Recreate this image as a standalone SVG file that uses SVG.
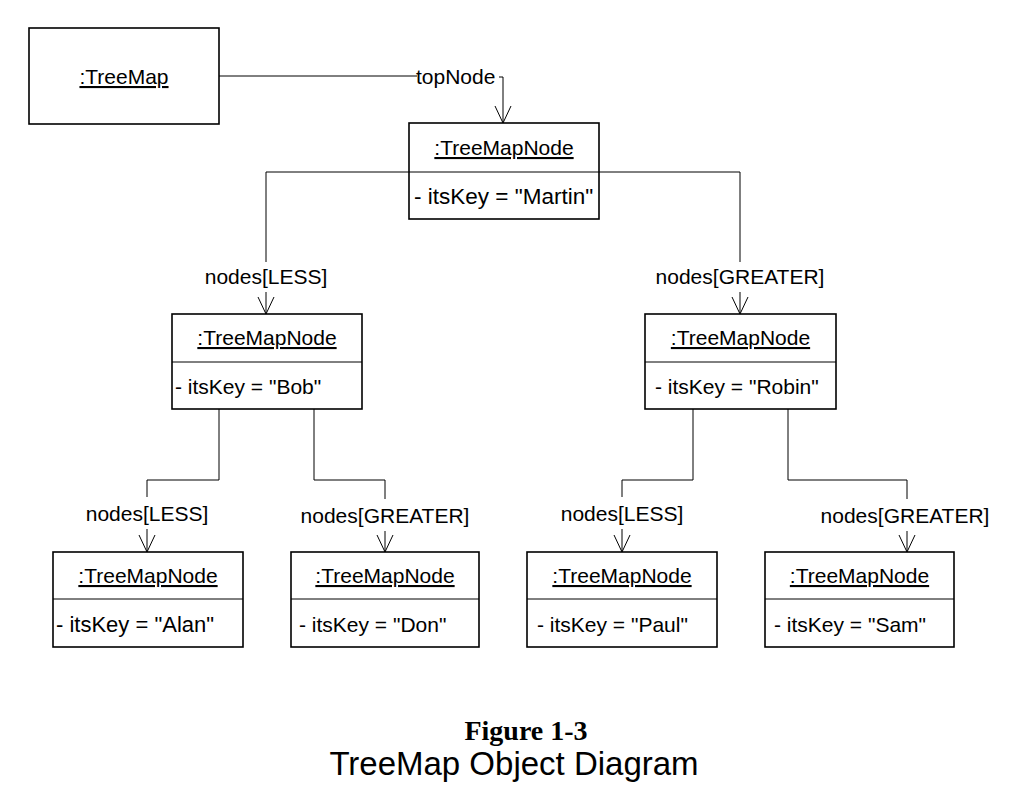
<svg xmlns="http://www.w3.org/2000/svg" width="1022" height="800" viewBox="0 0 1022 800">
<defs>
<style>
.box{fill:#fff;stroke:#000;stroke-width:1.6}
.div{stroke:#000;stroke-width:1}
.con{fill:none;stroke:#000;stroke-width:1}
.t{font-family:"Liberation Sans",Arial,sans-serif;font-size:21px;fill:#000}
.nm{text-anchor:middle;text-decoration:underline}
.lbl{text-anchor:middle}
</style>
<marker id="open" markerUnits="userSpaceOnUse" markerWidth="20" markerHeight="20" refX="0" refY="0" orient="auto" overflow="visible">
<path d="M-17,-8 L0,0 L-17,8" fill="none" stroke="#000" stroke-width="1"/>
</marker>
</defs>
<rect width="1022" height="800" fill="#fff"/>

<g id="connectors">
<polyline class="con" points="219,76 417,76"/>
<polyline class="con" points="499,77 503,77 503,123" marker-end="url(#open)"/>
<text class="t" x="416" y="84">topNode</text>

<polyline class="con" points="409,172 266,172 266,262"/>
<line class="con" x1="266" y1="292" x2="266" y2="314" marker-end="url(#open)"/>
<text class="t lbl" x="266" y="284">nodes[LESS]</text>

<polyline class="con" points="599,172 740,172 740,262"/>
<line class="con" x1="740" y1="292" x2="740" y2="314" marker-end="url(#open)"/>
<text class="t lbl" x="740" y="284">nodes[GREATER]</text>

<polyline class="con" points="219,409 219,480 147,480 147,497"/>
<line class="con" x1="147" y1="529" x2="147" y2="552" marker-end="url(#open)"/>
<text class="t lbl" x="147" y="521">nodes[LESS]</text>

<polyline class="con" points="314,409 314,480 385,480 385,499"/>
<line class="con" x1="385" y1="531" x2="385" y2="552" marker-end="url(#open)"/>
<text class="t lbl" x="385" y="523">nodes[GREATER]</text>

<polyline class="con" points="693,409 693,480 622,480 622,497"/>
<line class="con" x1="622" y1="529" x2="622" y2="552" marker-end="url(#open)"/>
<text class="t lbl" x="622" y="521">nodes[LESS]</text>

<polyline class="con" points="788,409 788,480 907,480 907,499"/>
<line class="con" x1="907" y1="531" x2="907" y2="552" marker-end="url(#open)"/>
<text class="t lbl" x="905" y="523">nodes[GREATER]</text>
</g>

<g id="treemap">
<rect class="box" x="29" y="28" width="190" height="96"/>
<text class="t nm" x="124" y="84">:TreeMap</text>
</g>

<g id="node-martin">
<rect class="box" x="409" y="123" width="190" height="96"/>
<line class="div" x1="409" y1="172" x2="599" y2="172"/>
<text class="t nm" x="504" y="155">:TreeMapNode</text>
<text class="t" x="414" y="204" style="font-size:22.5px">- itsKey = "Martin"</text>
</g>

<g id="node-bob">
<rect class="box" x="172" y="314" width="190" height="95"/>
<line class="div" x1="172" y1="362" x2="362" y2="362"/>
<text class="t nm" x="267" y="345">:TreeMapNode</text>
<text class="t" x="175" y="394">- itsKey = "Bob"</text>
</g>

<g id="node-robin">
<rect class="box" x="645" y="314" width="191" height="95"/>
<line class="div" x1="645" y1="362" x2="836" y2="362"/>
<text class="t nm" x="740.5" y="345">:TreeMapNode</text>
<text class="t" x="655" y="394">- itsKey = "Robin"</text>
</g>

<g id="node-alan">
<rect class="box" x="53" y="552" width="190" height="95"/>
<line class="div" x1="53" y1="599" x2="243" y2="599"/>
<text class="t nm" x="148" y="583">:TreeMapNode</text>
<text class="t" x="56" y="632" style="font-size:22px">- itsKey = "Alan"</text>
</g>

<g id="node-don">
<rect class="box" x="291" y="552" width="188" height="95"/>
<line class="div" x1="291" y1="599" x2="479" y2="599"/>
<text class="t nm" x="385" y="583">:TreeMapNode</text>
<text class="t" x="299" y="632">- itsKey = "Don"</text>
</g>

<g id="node-paul">
<rect class="box" x="527" y="552" width="190" height="95"/>
<line class="div" x1="527" y1="599" x2="717" y2="599"/>
<text class="t nm" x="622" y="583">:TreeMapNode</text>
<text class="t" x="537" y="632">- itsKey = "Paul"</text>
</g>

<g id="node-sam">
<rect class="box" x="765" y="552" width="189" height="95"/>
<line class="div" x1="765" y1="599" x2="954" y2="599"/>
<text class="t nm" x="859.5" y="583">:TreeMapNode</text>
<text class="t" x="774" y="632">- itsKey = "Sam"</text>
</g>

<g id="caption">
<text x="526" y="740" text-anchor="middle" style="font-family:'Liberation Serif','Times New Roman',serif;font-weight:bold;font-size:28px">Figure 1-3</text>
<text x="514" y="775" text-anchor="middle" style="font-family:'Liberation Sans',Arial,sans-serif;font-size:33px">TreeMap Object Diagram</text>
</g>
</svg>
